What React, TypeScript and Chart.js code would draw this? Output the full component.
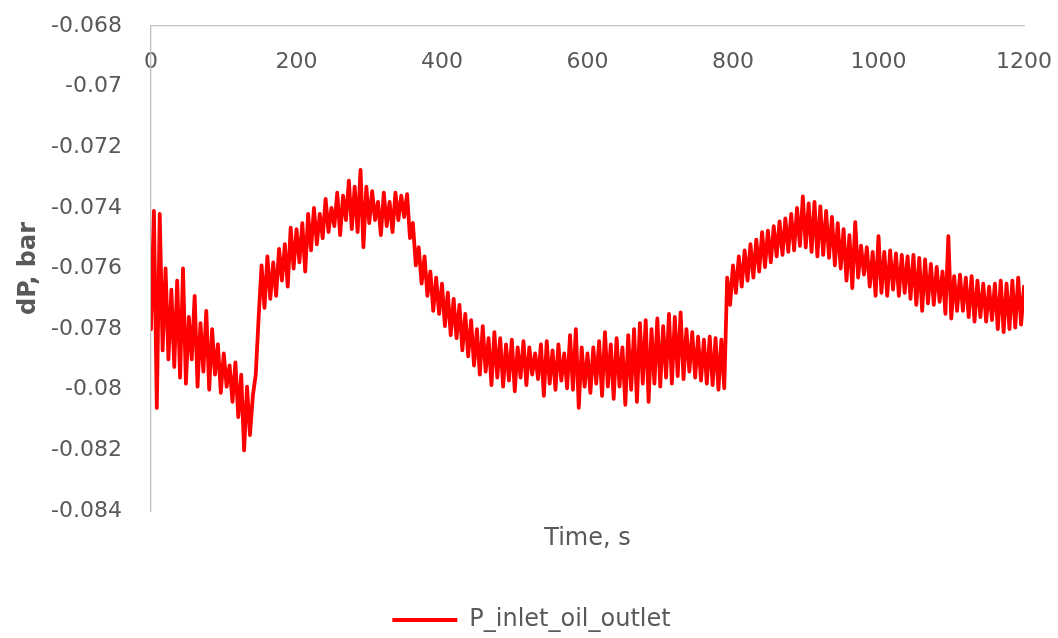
import React, { useEffect, useRef } from "react";
import { Chart, registerables } from "chart.js";

Chart.register(...registerables);

const SERIES_NAME = "P_inlet_oil_outlet";
const X_TITLE = "Time, s";
const Y_TITLE = "dP, bar";
const SAMPLE_STEP_S = 4;

const X_TICKS = [0, 200, 400, 600, 800, 1000, 1200];
const Y_TICKS = [-0.068, -0.07, -0.072, -0.074, -0.076, -0.078, -0.08, -0.082, -0.084];

// dP (bar), one value every 4 s from t = 0 to t = 1200 s
const DP_VALUES = [
  -0.07800, -0.07410, -0.08060, -0.07420, -0.07870, -0.07600, -0.07900, -0.07670, -0.07925, -0.07640,
  -0.07960, -0.07600, -0.07980, -0.07760, -0.07900, -0.07690, -0.07990, -0.07780, -0.07940, -0.07740,
  -0.08000, -0.07800, -0.07950, -0.07850, -0.08010, -0.07880, -0.07990, -0.07920, -0.08040, -0.07910,
  -0.08090, -0.07950, -0.08200, -0.07990, -0.08150, -0.08020, -0.07950, -0.07760, -0.07590, -0.07730,
  -0.07560, -0.07700, -0.07580, -0.07690, -0.07535, -0.07640, -0.07520, -0.07660, -0.07465, -0.07600,
  -0.07470, -0.07580, -0.07450, -0.07610, -0.07420, -0.07540, -0.07400, -0.07520, -0.07420, -0.07500,
  -0.07370, -0.07480, -0.07400, -0.07460, -0.07350, -0.07490, -0.07360, -0.07440, -0.07310, -0.07470,
  -0.07330, -0.07480, -0.07275, -0.07530, -0.07330, -0.07450, -0.07345, -0.07440, -0.07380, -0.07490,
  -0.07350, -0.07460, -0.07380, -0.07480, -0.07350, -0.07440, -0.07360, -0.07430, -0.07355, -0.07500,
  -0.07450, -0.07590, -0.07530, -0.07650, -0.07560, -0.07690, -0.07610, -0.07740, -0.07630, -0.07750,
  -0.07650, -0.07790, -0.07680, -0.07820, -0.07700, -0.07830, -0.07720, -0.07870, -0.07750, -0.07890,
  -0.07770, -0.07920, -0.07800, -0.07950, -0.07790, -0.07940, -0.07830, -0.07985, -0.07810, -0.07960,
  -0.07830, -0.07990, -0.07850, -0.07970, -0.07835, -0.08005, -0.07860, -0.07960, -0.07840, -0.07985,
  -0.07860, -0.07950, -0.07880, -0.07965, -0.07850, -0.08020, -0.07840, -0.07980, -0.07870, -0.08000,
  -0.07850, -0.07970, -0.07880, -0.07995, -0.07820, -0.08000, -0.07800, -0.08060, -0.07860, -0.07990,
  -0.07880, -0.08010, -0.07860, -0.07980, -0.07840, -0.08020, -0.07810, -0.07990, -0.07850, -0.08030,
  -0.07830, -0.07990, -0.07860, -0.08050, -0.07820, -0.08000, -0.07800, -0.08040, -0.07780, -0.07980,
  -0.07770, -0.08040, -0.07800, -0.07980, -0.07765, -0.07990, -0.07790, -0.07960, -0.07750, -0.07980,
  -0.07760, -0.07955, -0.07745, -0.07965, -0.07800, -0.07940, -0.07810, -0.07960, -0.07825, -0.07970,
  -0.07835, -0.07980, -0.07825, -0.07985, -0.07830, -0.08000, -0.07835, -0.07995, -0.07630, -0.07720,
  -0.07590, -0.07680, -0.07560, -0.07660, -0.07540, -0.07640, -0.07520, -0.07630, -0.07505, -0.07610,
  -0.07480, -0.07595, -0.07475, -0.07580, -0.07460, -0.07560, -0.07445, -0.07555, -0.07435, -0.07545,
  -0.07420, -0.07540, -0.07400, -0.07525, -0.07362, -0.07530, -0.07385, -0.07545, -0.07380, -0.07560,
  -0.07395, -0.07555, -0.07410, -0.07565, -0.07430, -0.07590, -0.07450, -0.07600, -0.07470, -0.07640,
  -0.07490, -0.07665, -0.07447, -0.07630, -0.07525, -0.07620, -0.07530, -0.07660, -0.07545, -0.07690,
  -0.07493, -0.07680, -0.07545, -0.07690, -0.07540, -0.07670, -0.07550, -0.07690, -0.07555, -0.07680,
  -0.07560, -0.07700, -0.07555, -0.07720, -0.07565, -0.07740, -0.07570, -0.07715, -0.07585, -0.07720,
  -0.07595, -0.07710, -0.07610, -0.07750, -0.07493, -0.07765, -0.07625, -0.07740, -0.07620, -0.07740,
  -0.07630, -0.07760, -0.07625, -0.07775, -0.07640, -0.07760, -0.07650, -0.07775, -0.07660, -0.07770,
  -0.07650, -0.07800, -0.07640, -0.07810, -0.07650, -0.07800, -0.07640, -0.07795, -0.07630, -0.07785,
  -0.07660,
];

const TEXT_COLOR = "#595959";
const AXIS_COLOR = "#BFBFBF";
const LINE_COLOR = "#FF0000";
const FONT_FAMILY = "'DejaVu Sans', 'Liberation Sans', sans-serif";
const TICK_SIZE = 22;
const LABEL_SIZE = 24;

export default function App() {
  const canvasRef = useRef<HTMLCanvasElement>(null);

  useEffect(() => {
    const canvas = canvasRef.current;
    if (!canvas) return;
    const points = DP_VALUES.map((v, i) => ({ x: i * SAMPLE_STEP_S, y: v }));

    const chart = new Chart(canvas, {
      type: "line",
      data: {
        datasets: [
          {
            label: SERIES_NAME,
            data: points,
            borderColor: LINE_COLOR,
            backgroundColor: LINE_COLOR,
            borderWidth: 3.8,
            borderJoinStyle: "round",
            borderCapStyle: "round",
            pointRadius: 0,
            tension: 0,
            xAxisID: "x",
            yAxisID: "y",
          },
        ],
      },
      options: {
        animation: false,
        responsive: false,
        maintainAspectRatio: false,
        layout: { padding: { top: 26, right: 34, left: 39, bottom: -4 } },
        scales: {
          x: {
            type: "linear",
            position: { y: -0.068 } as any,
            min: 0,
            max: 1200,
            afterBuildTicks: (s: any) => {
              s.ticks = X_TICKS.map((v) => ({ value: v }));
            },
            ticks: {
              padding: 0,
              autoSkip: false,
              maxRotation: 0,
              color: TEXT_COLOR,
              font: { family: FONT_FAMILY, size: TICK_SIZE },
              callback: (v: any) => String(v),
            },
            grid: { display: false, drawTicks: true, tickLength: 23 },
            border: { display: true, color: AXIS_COLOR, width: 1.3 },
          },
          xTitle: {
            type: "linear",
            axis: "x",
            position: "bottom",
            min: 0,
            max: 1200,
            ticks: { display: false },
            grid: { display: false, drawTicks: false },
            border: { display: false },
            title: {
              display: true,
              text: X_TITLE,
              color: TEXT_COLOR,
              font: { family: FONT_FAMILY, size: LABEL_SIZE },
              padding: { top: 0, bottom: 45 },
            },
            afterFit: (s: any) => {
              s.height = 87;
            },
          } as any,
          y: {
            type: "linear",
            position: "left",
            min: -0.084,
            max: -0.068,
            afterBuildTicks: (s: any) => {
              s.ticks = Y_TICKS.map((v) => ({ value: v }));
            },
            ticks: {
              padding: 0,
              color: TEXT_COLOR,
              font: { family: FONT_FAMILY, size: TICK_SIZE },
              callback: (v: any) => String(parseFloat(Number(v).toFixed(3))),
            },
            grid: { display: false, drawTicks: true, tickLength: 29 },
            border: { display: true, color: AXIS_COLOR, width: 1.3 },
            title: {
              display: true,
              text: Y_TITLE,
              color: TEXT_COLOR,
              font: { family: FONT_FAMILY, size: LABEL_SIZE, weight: "bold" },
              padding: { top: -25, bottom: 0 },
            },
            afterFit: (s: any) => {
              s.width = 112;
            },
          },
        },
        plugins: {
          legend: {
            display: true,
            position: "bottom",
            labels: {
              boxWidth: 65,
              boxHeight: 4,
              padding: 10,
              color: TEXT_COLOR,
              font: { family: FONT_FAMILY, size: LABEL_SIZE },
              generateLabels: (c: any) =>
                c.data.datasets.map((ds: any, i: number) => ({
                  text: ds.label,
                  fillStyle: LINE_COLOR,
                  strokeStyle: LINE_COLOR,
                  lineWidth: 0,
                  hidden: false,
                  datasetIndex: i,
                  fontColor: TEXT_COLOR,
                })),
            },
          },
          tooltip: { enabled: false },
        },
      },
    });

    return () => chart.destroy();
  }, []);

  return (
    <div
      style={{
        position: "fixed",
        left: 0,
        top: 0,
        width: 1058,
        height: 638,
        background: "#ffffff",
      }}
    >
      <canvas ref={canvasRef} width={1058} height={638} style={{ display: "block" }} />
    </div>
  );
}
